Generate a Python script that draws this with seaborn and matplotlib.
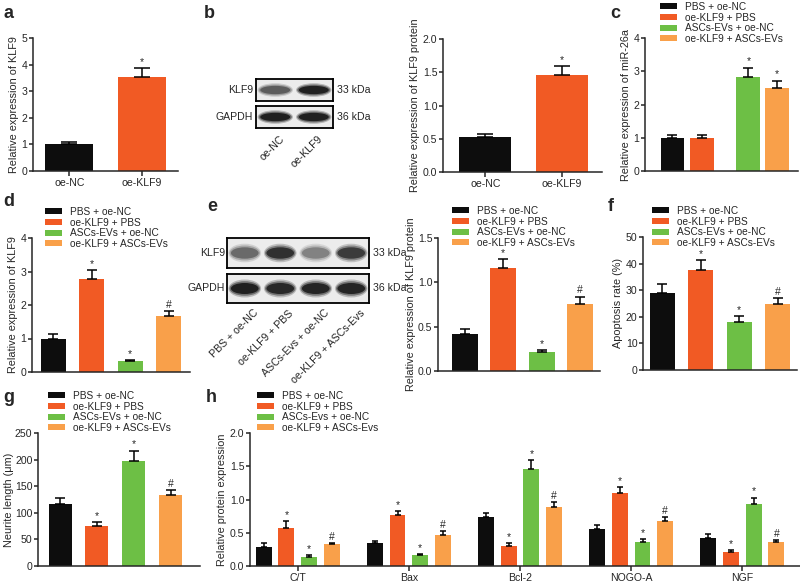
import numpy as np
import pandas as pd
import matplotlib
matplotlib.use("Agg")
import matplotlib.pyplot as plt
import seaborn as sns
from matplotlib.patches import Patch, Ellipse

sns.set_style("ticks")
plt.rcParams["font.family"] = ["Liberation Sans", "DejaVu Sans"]
plt.rcParams["font.size"] = 7.8
plt.rcParams["axes.linewidth"] = 1.1
plt.rcParams["xtick.major.width"] = 1.1
plt.rcParams["ytick.major.width"] = 1.1
plt.rcParams["xtick.major.size"] = 3.5
plt.rcParams["ytick.major.size"] = 3
plt.rcParams["xtick.labelsize"] = 7.6
plt.rcParams["ytick.labelsize"] = 7.6
plt.rcParams["axes.labelsize"] = 7.8

# ---------------- data ----------------
groups = ["PBS + oe-NC", "oe-KLF9 + PBS", "ASCs-EVs + oe-NC", "oe-KLF9 + ASCs-EVs"]
groups_h = ["PBS + oe-NC", "oe-KLF9 + PBS", "ASCs-Evs + oe-NC", "oe-KLF9 + ASCs-Evs"]
blot_e_lanes = ["PBS + oe-NC", "oe-KLF9 + PBS", "ASCs-Evs + oe-NC", "oe-KLF9 + ASCs-Evs"]

a_cats = ["oe-NC", "oe-KLF9"]
a_vals = [1.0, 3.52]
a_err = [0.10, 0.34]
a_sig = ["", "*"]

b_cats = ["oe-NC", "oe-KLF9"]
b_vals = [0.52, 1.46]
b_err = [0.05, 0.13]
b_sig = ["", "*"]
b_klf9_band = [0.66, 0.92]
b_gapdh_band = [0.92, 0.92]

c_vals = [1.0, 1.0, 2.84, 2.49]
c_err = [0.09, 0.09, 0.27, 0.23]
c_sig = ["", "", "*", "*"]

d_vals = [1.0, 2.77, 0.32, 1.67]
d_err = [0.13, 0.26, 0.04, 0.16]
d_sig = ["", "*", "*", "#"]

e_vals = [0.42, 1.16, 0.21, 0.76]
e_err = [0.05, 0.10, 0.03, 0.08]
e_sig = ["", "*", "*", "#"]
e_klf9_band = [0.6, 0.85, 0.5, 0.8]
e_gapdh_band = [0.92, 0.88, 0.9, 0.9]

f_vals = [29.1, 37.5, 18.1, 24.7]
f_err = [3.4, 3.8, 2.1, 2.4]
f_sig = ["", "*", "*", "#"]

g_vals = [117, 75, 198, 134]
g_err = [10, 7.5, 19, 9]
g_sig = ["", "*", "*", "#"]

h_genes = ["C/T", "Bax", "Bcl-2", "NOGO-A", "NGF"]
h_vals = [
    [0.29, 0.57, 0.14, 0.33],
    [0.34, 0.76, 0.16, 0.47],
    [0.74, 0.30, 1.46, 0.89],
    [0.56, 1.10, 0.36, 0.68],
    [0.42, 0.21, 0.93, 0.36],
]
h_err = [
    [0.05, 0.11, 0.02, 0.01],
    [0.03, 0.07, 0.02, 0.05],
    [0.06, 0.05, 0.13, 0.07],
    [0.06, 0.09, 0.04, 0.06],
    [0.06, 0.03, 0.10, 0.03],
]
h_sig = [
    ["", "*", "*", "#"],
    ["", "*", "*", "#"],
    ["", "*", "*", "#"],
    ["", "*", "*", "#"],
    ["", "*", "*", "#"],
]

# ---------------- style ----------------
colors = ["#0d0d0d", "#f15a24", "#6dbf45", "#f9a04a"]
W, H = 800, 585
fig = plt.figure(figsize=(W / 100, H / 100), dpi=100)


def px_axes(l, t, r, b):
    return fig.add_axes([l / W, 1 - b / H, (r - l) / W, (b - t) / H])


def letter(x, y, s):
    fig.text(x / W, 1 - y / H, s, fontsize=13, fontweight="bold", ha="left", va="center")


def style(ax, xticks=True):
    sns.despine(ax=ax)
    ax.set_xlabel("")
    if not xticks:
        ax.set_xticks([])
    ax.tick_params(axis="y", pad=1)
    ax.tick_params(axis="x", pad=1.5)


def errs_and_sig(ax, errs, sigs, cap, sigsize=7.5):
    bars = sorted(ax.patches, key=lambda p: p.get_x())
    for p, e, s in zip(bars, errs, sigs):
        xc = p.get_x() + p.get_width() / 2
        top = p.get_height()
        ax.errorbar([xc], [top], yerr=[[0], [e]], fmt="none", ecolor="black",
                    elinewidth=1.1, capsize=cap, capthick=1.1, zorder=3)
        if s:
            ax.annotate(s, (xc, top + e), xytext=(0, 0.8),
                        textcoords="offset points", ha="center", va="bottom",
                        fontsize=sigsize, zorder=4)


def legend(ax, x, y, labels):
    handles = [Patch(facecolor=c, edgecolor="none", label=l) for c, l in zip(colors, labels)]
    ax.legend(handles=handles, loc="upper left", bbox_to_anchor=(x / W, 1 - y / H),
              bbox_transform=fig.transFigure, frameon=False, fontsize=7.3,
              handlelength=1.7, handleheight=0.55, handletextpad=0.75,
              labelspacing=0.06, borderpad=0, borderaxespad=0)


def simple_bar(ax, cats, vals, width):
    pal = colors[:len(cats)] if len(cats) == 4 else [colors[0], colors[1]]
    df = pd.DataFrame({"cat": cats, "val": vals})
    sns.barplot(data=df, x="cat", y="val", hue="cat", palette=dict(zip(cats, pal)),
                order=cats, hue_order=cats, width=width, dodge=False, legend=False,
                saturation=1, ax=ax, edgecolor="none")
    ax.set_ylabel("")


def blot(l, t, r, b, intensities):
    ax = px_axes(l, t, r, b)
    n = len(intensities)
    ax.set_xlim(0, n)
    ax.set_ylim(0, 1)
    ax.set_facecolor("#ececec")
    for i, v in enumerate(intensities):
        for wf, hf, al in [(0.92, 0.62, 0.25), (0.86, 0.5, 0.45), (0.78, 0.38, 0.85)]:
            g = 1 - v
            ax.add_patch(Ellipse((i + 0.5, 0.5), wf, hf, facecolor=(g * 0.5, g * 0.5, g * 0.5),
                                 alpha=al * v, edgecolor="none"))
    ax.set_xticks([])
    ax.set_yticks([])
    for sp in ax.spines.values():
        sp.set_linewidth(1.3)
        sp.set_color("black")
    return ax


# ---------------- panel a ----------------
ax = px_axes(33, 38, 178, 171)
simple_bar(ax, a_cats, a_vals, 0.66)
ax.set_ylim(0, 5)
ax.set_yticks(range(0, 6))
ax.set_xlim(-0.5, 1.5)
style(ax)
errs_and_sig(ax, a_err, a_sig, 6)
ax.set_ylabel("Relative expression of KLF9", labelpad=2)
letter(3, 14, "a")

# ---------------- panel b ----------------
letter(204, 14, "b")
blot(256, 79, 333, 101, b_klf9_band)
blot(256, 106, 333, 128, b_gapdh_band)
fig.text(253 / W, 1 - 90 / H, "KLF9", ha="right", va="center", fontsize=7.6)
fig.text(253 / W, 1 - 117 / H, "GAPDH", ha="right", va="center", fontsize=7.6)
fig.text(337 / W, 1 - 90 / H, "33 kDa", ha="left", va="center", fontsize=7.6)
fig.text(337 / W, 1 - 117 / H, "36 kDa", ha="left", va="center", fontsize=7.6)
for i, lab in enumerate(b_cats):
    xc = 256 + (i + 0.5) * (333 - 256) / 2
    fig.text((xc + 4) / W, 1 - 134 / H, lab, rotation=45, ha="right", va="top",
             fontsize=7.6, rotation_mode="anchor")

ax = px_axes(443, 39, 602, 172)
simple_bar(ax, b_cats, b_vals, 0.68)
ax.set_ylim(0, 2.0)
ax.set_yticks([0, 0.5, 1.0, 1.5, 2.0])
ax.set_yticklabels(["0.0", "0.5", "1.0", "1.5", "2.0"])
ax.set_xlim(-0.55, 1.52)
style(ax)
errs_and_sig(ax, b_err, b_sig, 6)
ax.set_ylabel("Relative expression of KLF9 protein", labelpad=2)

# ---------------- panel c ----------------
ax = px_axes(645, 38, 798, 171)
c_pos = [0.0, 1.0, 2.57, 3.53]
dfc = pd.DataFrame({"pos": c_pos, "val": c_vals, "grp": groups})
sns.barplot(data=dfc, x="pos", y="val", hue="grp", palette=dict(zip(groups, colors)),
            hue_order=groups, native_scale=True, dodge=False, width=0.84, legend=False,
            saturation=1, ax=ax, edgecolor="none")
ax.set_ylim(0, 4)
ax.set_yticks(range(0, 5))
ax.set_xlim(-0.93, 4.25)
style(ax, xticks=False)
errs_and_sig(ax, c_err, c_sig, 3.5)
ax.set_ylabel("Relative expression of miR-26a", labelpad=2)
legend(ax, 660, 2, groups)
letter(610, 14, "c")

# ---------------- panel d ----------------
ax = px_axes(32, 238, 190, 372)
simple_bar(ax, groups, d_vals, 0.65)
ax.set_ylim(0, 4)
ax.set_yticks(range(0, 5))
ax.set_xlim(-0.55, 3.55)
style(ax, xticks=False)
errs_and_sig(ax, d_err, d_sig, 3.5)
ax.set_ylabel("Relative expression of KLF9", labelpad=2)
legend(ax, 45, 207, groups)
letter(3, 201, "d")

# ---------------- panel e ----------------
letter(207, 206, "e")
blot(227, 238, 369, 268, e_klf9_band)
blot(227, 274, 369, 303, e_gapdh_band)
fig.text(225 / W, 1 - 253 / H, "KLF9", ha="right", va="center", fontsize=7.6)
fig.text(225 / W, 1 - 288 / H, "GAPDH", ha="right", va="center", fontsize=7.6)
fig.text(373 / W, 1 - 253 / H, "33 kDa", ha="left", va="center", fontsize=7.6)
fig.text(373 / W, 1 - 288 / H, "36 kDa", ha="left", va="center", fontsize=7.6)
for i, lab in enumerate(blot_e_lanes):
    xc = 227 + (i + 0.5) * (369 - 227) / 4
    fig.text((xc + 8) / W, 1 - 308 / H, lab, rotation=45, ha="right", va="top",
             fontsize=7.6, rotation_mode="anchor")

ax = px_axes(438, 238, 600, 371)
simple_bar(ax, groups, e_vals, 0.68)
ax.set_ylim(0, 1.5)
ax.set_yticks([0, 0.5, 1.0, 1.5])
ax.set_yticklabels(["0.0", "0.5", "1.0", "1.5"])
ax.set_xlim(-0.7, 3.52)
style(ax, xticks=False)
errs_and_sig(ax, e_err, e_sig, 3.5)
ax.set_ylabel("Relative expression of KLF9 protein", labelpad=1)
legend(ax, 452, 206, groups)

# ---------------- panel f ----------------
ax = px_axes(643, 237, 797, 370)
simple_bar(ax, groups, f_vals, 0.66)
ax.set_ylim(0, 50)
ax.set_yticks(range(0, 51, 10))
ax.set_xlim(-0.5, 3.5)
style(ax, xticks=False)
errs_and_sig(ax, f_err, f_sig, 3.5)
ax.set_ylabel("Apoptosis rate (%)", labelpad=2)
legend(ax, 652, 206, groups)
letter(608, 206, "f")

# ---------------- panel g ----------------
ax = px_axes(38, 433, 200, 566)
simple_bar(ax, groups, g_vals, 0.62)
ax.set_ylim(0, 250)
ax.set_yticks(range(0, 251, 50))
ax.set_xlim(-0.6, 3.8)
style(ax, xticks=False)
errs_and_sig(ax, g_err, g_sig, 3.5)
ax.set_ylabel("Neurite length (μm)", labelpad=1)
legend(ax, 48, 391, groups)
letter(3, 398, "g")

# ---------------- panel h ----------------
ax = px_axes(250, 433, 800, 566)
rows = []
for gi, gene in enumerate(h_genes):
    for k, grp in enumerate(groups_h):
        rows.append({"gene": gene, "grp": grp, "val": h_vals[gi][k]})
dfh = pd.DataFrame(rows)
sns.barplot(data=dfh, x="gene", y="val", hue="grp", order=h_genes, hue_order=groups_h,
            palette=dict(zip(groups_h, colors)), width=0.82, gap=0.3, legend=False,
            saturation=1, ax=ax, edgecolor="none")
ax.set_ylabel("")
ax.set_ylim(0, 2.0)
ax.set_yticks([0, 0.5, 1.0, 1.5, 2.0])
ax.set_yticklabels(["0.0", "0.5", "1.0", "1.5", "2.0"])
ax.set_xlim(-0.43, 4.52)
style(ax)
flat_err = [e for row in h_err for e in row]
flat_sig = [s for row in h_sig for s in row]
errs_and_sig(ax, flat_err, flat_sig, 2.5)
ax.set_ylabel("Relative protein expression", labelpad=2)
legend(ax, 257, 391, groups_h)
letter(206, 398, "h")

fig.savefig("out.png", dpi=100)
